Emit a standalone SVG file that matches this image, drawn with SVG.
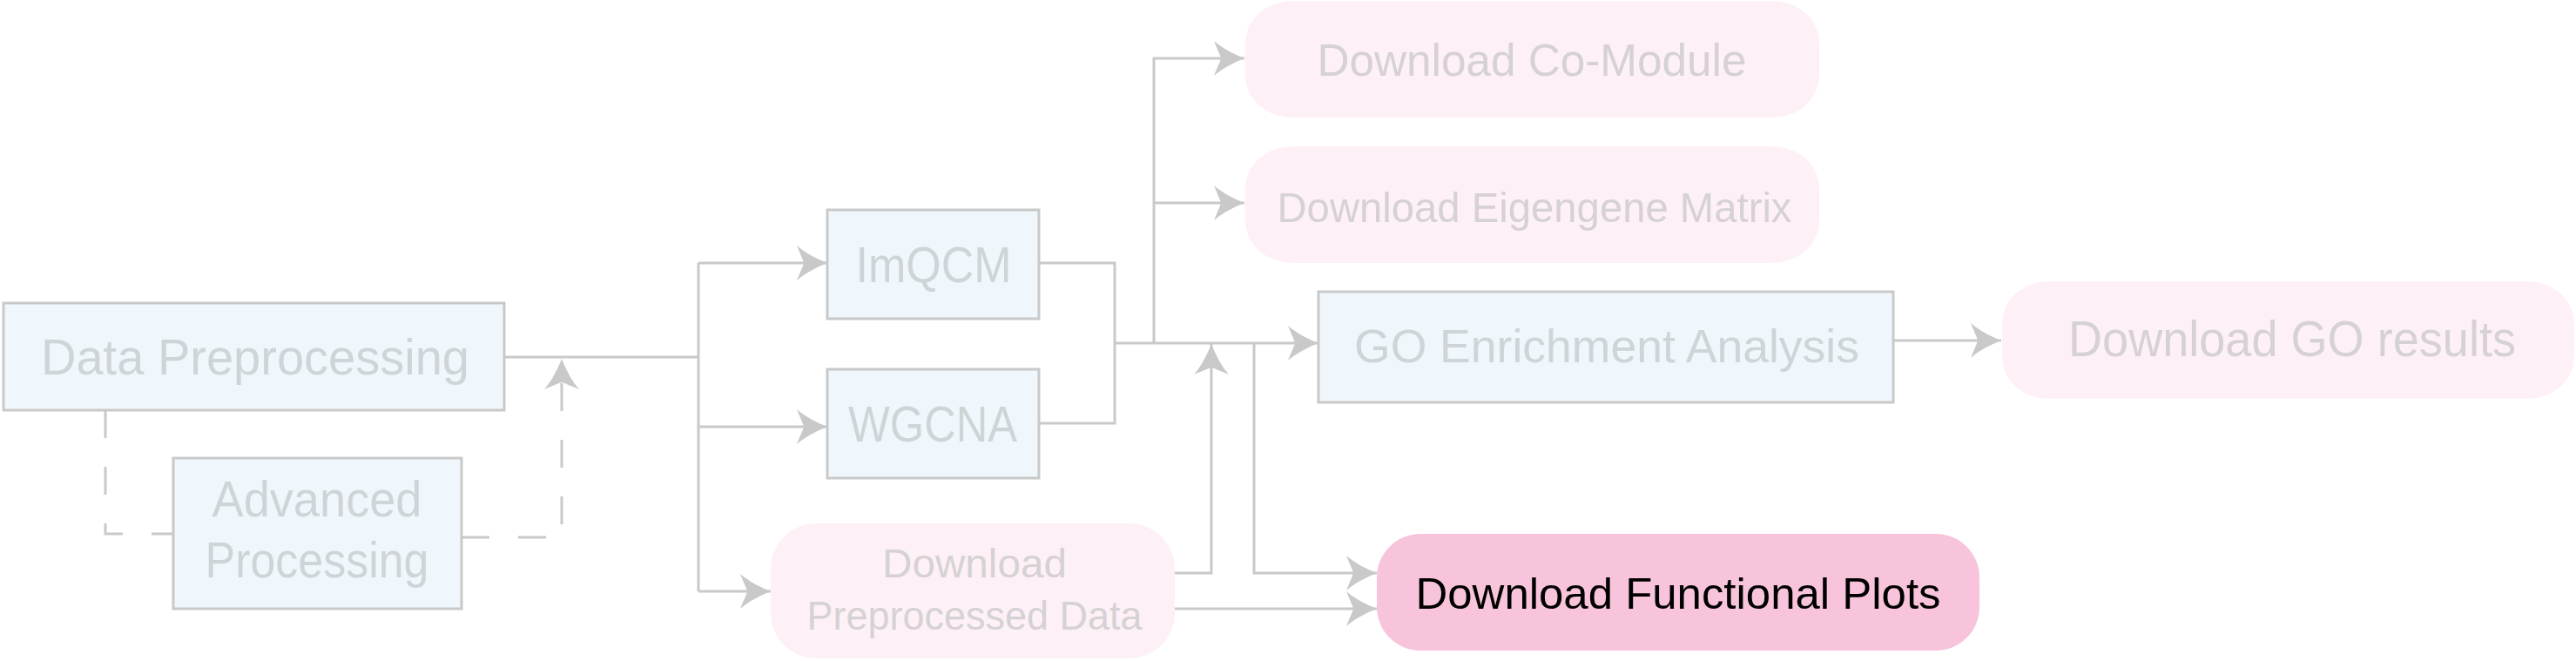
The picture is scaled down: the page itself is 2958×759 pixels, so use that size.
<svg xmlns="http://www.w3.org/2000/svg" width="2958" height="759" viewBox="0 0 2958 759">
<style>
.bx{fill:#eff7fc;stroke:#c9c9c9;stroke-width:3}
.pk{fill:#fdf1f7}
.hl{fill:#f8c4dc}
.t{font-family:"Liberation Sans",Arial,sans-serif;text-anchor:middle}
.tb{fill:#cfd4d7}
.tp{fill:#d6d1d4}
.tk{fill:#000000}
.ln{fill:none;stroke:#c9c9c9;stroke-width:3}
.ds{fill:none;stroke:#c9c9c9;stroke-width:3;stroke-dasharray:32 33}
</style>
<defs>
<marker id="ah" viewBox="-38 -22 40 44" markerWidth="40" markerHeight="44" refX="0" refY="0" orient="auto" markerUnits="userSpaceOnUse">
<path d="M0,0 C-10,-4 -25,-11 -35,-20 C-31,-10 -28,-4 -27,0 C-28,4 -31,10 -35,20 C-25,11 -10,4 0,0 Z" fill="#c9c9c9"/>
</marker>
</defs>
<g id="connectors">
<path class="ln" d="M579,410 H802"/>
<path class="ln" d="M802,302 V679"/>
<path class="ln" d="M802,302 H950" marker-end="url(#ah)"/>
<path class="ln" d="M802,490 H950" marker-end="url(#ah)"/>
<path class="ln" d="M802,679 H885" marker-end="url(#ah)"/>
<path class="ln" d="M1193,302 H1280 V486 H1193"/>
<path class="ln" d="M1280,394 H1514" marker-end="url(#ah)"/>
<path class="ln" d="M1325,394 V67 H1429" marker-end="url(#ah)"/>
<path class="ln" d="M1325,233 H1429" marker-end="url(#ah)"/>
<path class="ln" d="M1440,394 V658 H1581" marker-end="url(#ah)"/>
<path class="ln" d="M1349,658 H1391 V395" marker-end="url(#ah)"/>
<path class="ln" d="M1349,699 H1581" marker-end="url(#ah)"/>
<path class="ln" d="M2174,391 H2298" marker-end="url(#ah)"/>
<path class="ds" d="M121,471 V613 H199"/>
<path class="ds" d="M530,617 H645 V412" marker-end="url(#ah)"/>
</g>
<g id="data-preprocessing">
<rect class="bx" x="4" y="348" width="575" height="123"/>
<text class="t tb" x="293" y="430" font-size="58" textLength="492" lengthAdjust="spacingAndGlyphs">Data Preprocessing</text>
</g>
<g id="advanced-processing">
<rect class="bx" x="199" y="526" width="331" height="173"/>
<text class="t tb" x="364" y="593" font-size="57" textLength="241" lengthAdjust="spacingAndGlyphs">Advanced</text>
<text class="t tb" x="364" y="663" font-size="57" textLength="257" lengthAdjust="spacingAndGlyphs">Processing</text>
</g>
<g id="imqcm">
<rect class="bx" x="950" y="241" width="243" height="125"/>
<text class="t tb" x="1072" y="324" font-size="58" textLength="179" lengthAdjust="spacingAndGlyphs">ImQCM</text>
</g>
<g id="wgcna">
<rect class="bx" x="950" y="424" width="243" height="125"/>
<text class="t tb" x="1071" y="507" font-size="58" textLength="194" lengthAdjust="spacingAndGlyphs">WGCNA</text>
</g>
<g id="download-preprocessed">
<rect class="pk" x="885" y="601" width="464" height="155" rx="52" ry="52"/>
<text class="t tp" x="1119" y="663" font-size="46" textLength="212" lengthAdjust="spacingAndGlyphs">Download</text>
<text class="t tp" x="1119" y="723" font-size="46" textLength="385" lengthAdjust="spacingAndGlyphs">Preprocessed Data</text>
</g>
<g id="download-comodule">
<rect class="pk" x="1430" y="1" width="659" height="134" rx="54" ry="48"/>
<text class="t tp" x="1759" y="87" font-size="52" textLength="493" lengthAdjust="spacingAndGlyphs">Download Co-Module</text>
</g>
<g id="download-eigengene">
<rect class="pk" x="1430" y="168" width="659" height="134" rx="54" ry="48"/>
<text class="t tp" x="1762" y="255" font-size="49" textLength="591" lengthAdjust="spacingAndGlyphs">Download Eigengene Matrix</text>
</g>
<g id="go-enrichment">
<rect class="bx" x="1514" y="335" width="660" height="127"/>
<text class="t tb" x="1845" y="416" font-size="54" textLength="580" lengthAdjust="spacingAndGlyphs">GO Enrichment Analysis</text>
</g>
<g id="download-go">
<rect class="pk" x="2299" y="323" width="657" height="135" rx="54" ry="48"/>
<text class="t tp" x="2632" y="409" font-size="57" textLength="514" lengthAdjust="spacingAndGlyphs">Download GO results</text>
</g>
<g id="download-functional">
<rect class="hl" x="1581" y="613" width="692" height="134" rx="50" ry="50"/>
<text class="t tk" x="1927" y="699" font-size="50" textLength="603" lengthAdjust="spacingAndGlyphs">Download Functional Plots</text>
</g>
</svg>
